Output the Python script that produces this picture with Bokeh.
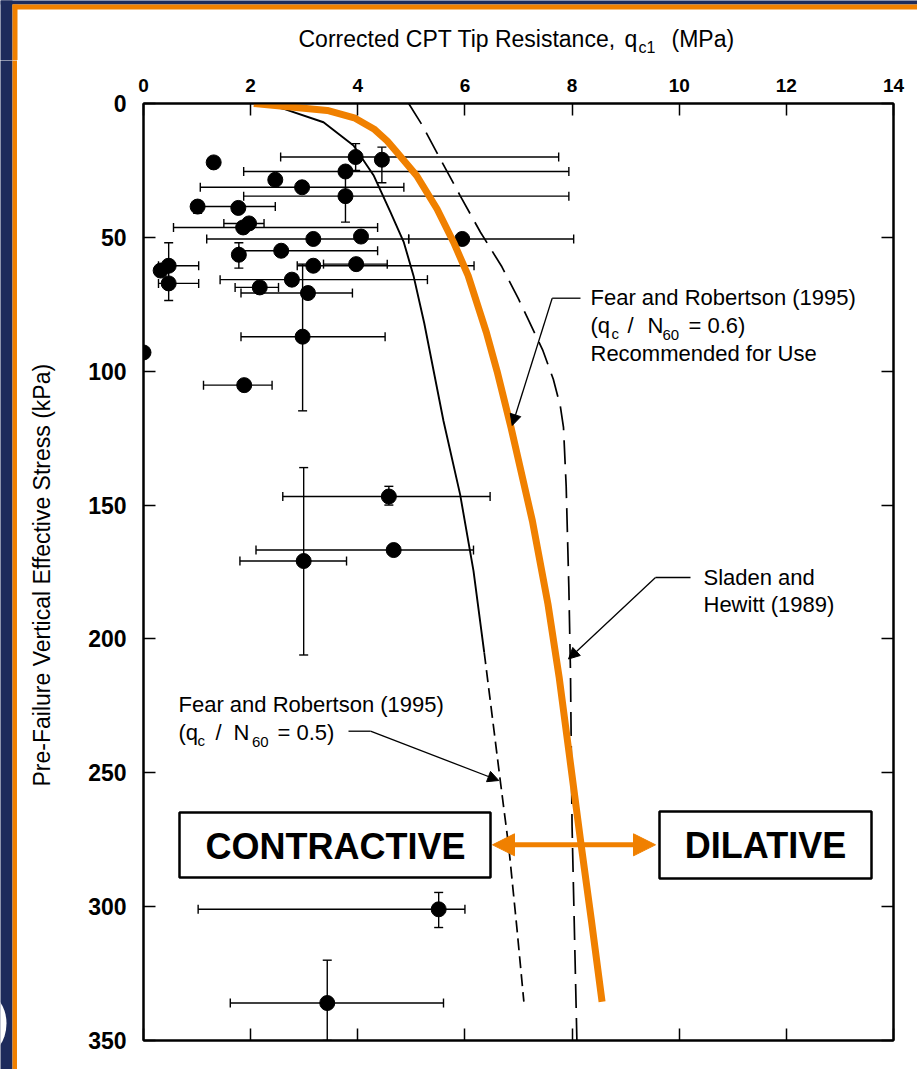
import math
from bokeh.plotting import figure
from bokeh.layouts import column, row
from bokeh.models import (Range1d, LinearAxis, FixedTicker, ColumnDataSource, Whisker,
                          TeeHead, Arrow, NormalHead, Label, BoxAnnotation)
from bokeh.embed import file_html
from bokeh.resources import INLINE

# ---------------------------------------------------------------------------
# Field case records: corrected CPT tip resistance qc1 (MPa) and
# pre-failure vertical effective stress (kPa)
case_qc1 = [1.31, 3.96, 4.45, 3.77, 2.46, 2.96, 3.77, 1.01, 1.77, 1.97, 1.86, 3.17,
            4.06, 5.95, 0.47, 0.32, 0.47, 1.78, 2.57, 3.17, 3.97, 2.77, 2.17, 3.07,
            2.97, 0.0, 1.88, 4.58, 4.67, 2.99, 5.51, 3.43]
case_sigma = [22, 20, 21, 25.4, 28.5, 31.3, 34.6, 38.5, 39, 44.8, 46.3, 50.6,
              49.7, 50.6, 60.6, 62.4, 67.2, 56.5, 55, 60.6, 60, 65.8, 68.7, 70.8,
              87.1, 93, 105.2, 146.8, 166.8, 170.9, 301, 336]

# Range of tip resistance for each record (horizontal bars)
qrange_sigma = [20, 25.4, 31.3, 34.6, 38.5, 44.8, 46.3, 50.6, 50.6, 60.6, 67.2, 55,
                60.6, 60, 65.8, 68.7, 70.8, 87.1, 105.2, 146.8, 166.8, 170.9, 301, 336]
qrange_low = [2.56, 1.87, 1.06, 1.87, 0.91, 1.5, 0.56, 1.18, 4.95, 0.28, 0.28, 1.78,
              2.87, 3.36, 1.43, 1.71, 1.82, 1.82, 1.12, 2.6, 2.1, 1.8, 1.02, 1.62]
qrange_high = [7.75, 7.94, 4.86, 7.94, 2.46, 2.25, 4.37, 4.95, 8.03, 1.03, 1.03, 4.37,
               6.17, 4.55, 5.3, 2.52, 3.9, 4.51, 2.4, 6.47, 6.16, 3.79, 6.0, 5.6]

# Range of effective stress for each record (vertical bars)
srange_qc1 = [3.96, 4.45, 3.77, 1.01, 0.47, 1.78, 2.97, 4.58, 2.99, 5.51, 3.43]
srange_low = [15, 16.3, 25.4, 36.5, 52, 52, 60, 143, 136, 294.7, 320]
srange_high = [25, 29.6, 44.3, 41, 73.6, 61.5, 114.8, 150, 206, 307.8, 350]

# Fear and Robertson (1995), qc/N60 = 0.6 (recommended boundary)
fr06_qc1 = [2.06, 3.43, 3.95, 4.3, 4.55, 4.73, 5.1, 5.48, 5.79, 6.06, 6.4, 6.6, 6.86,
            7.26, 7.55, 7.76, 7.96, 8.16, 8.36, 8.56]
fr06_sigma = [0, 2.6, 5.5, 9.5, 14, 18.2, 27, 39.4, 51.9, 64.3, 85.5, 100, 121,
              156, 187, 214.5, 245, 275.6, 305, 335.5]

# Fear and Robertson (1995), qc/N60 = 0.5
fr05_qc1 = [2.15, 2.62, 3.36, 3.92, 4.3, 4.61, 4.86, 5.04, 5.24, 5.6, 5.91, 6.16, 6.36]
fr05_sigma = [0, 2, 7, 15.7, 27, 40.6, 51.9, 64.3, 82, 118.6, 146, 174.6, 205]
fr05_ext_qc1 = [6.36, 6.66, 6.82, 6.97, 7.1]
fr05_ext_sigma = [205, 253, 278, 308, 335.5]

# Sladen and Hewitt (1989)
sladen_qc1 = [4.95, 5.2, 5.54, 5.91, 6.29, 6.69, 7.0, 7.19, 7.45, 7.65, 7.78, 7.84,
              7.89, 7.94, 7.97, 8.0, 8.09]
sladen_sigma = [0, 8, 20.7, 34.4, 48.1, 61, 73, 81, 92, 103, 113, 121, 143, 181,
                212, 270, 350]

x_ticks = [0, 2, 4, 6, 8, 10, 12, 14]
y_ticks = [0, 50, 100, 150, 200, 250, 300, 350]

# ---------------------------------------------------------------------------
PAGE_W, PAGE_H = 917, 1069
HEAD_H = 60          # height of the heading strip
BAND_W = 17          # width of the left page band
FX0, FX1, FY0, FY1 = 143, 893, 103, 1040   # plot frame edges on the page
NAVY = "#1d2b5c"
ORANGE = "#f08000"
FONT = "Liberation Sans"
BASE_SHIFT = 0.37    # text anchor correction (fraction of font size)


def qx(px):
    """page x pixel -> qc1 value"""
    return (px - FX0) / (FX1 - FX0) * 14.0


def sy(py):
    """page y pixel -> stress value"""
    return (py - FY0) / (FY1 - FY0) * 350.0


def ident(v):
    return v


def bare_figure(w, h, xr, yr):
    f = figure(width=w, height=h, x_range=xr, y_range=yr, output_backend="svg",
               toolbar_location=None, x_axis_location=None, y_axis_location=None,
               min_border=0, min_border_left=0, min_border_right=0,
               min_border_top=0, min_border_bottom=0,
               background_fill_color="white", border_fill_color="white")
    f.grid.visible = False
    f.outline_line_color = None
    f.frame_align = False
    return f


def band(f, l, r, t, b, color):
    f.add_layout(BoxAnnotation(left=l, right=r, top=t, bottom=b, fill_color=color,
                               fill_alpha=1, line_color=None, level="underlay"))


def text_on(f, xconv, yconv, text, px, py, size=22, bold=False, align="left",
            angle=0.0):
    f.add_layout(Label(x=xconv(px), y=yconv(py - BASE_SHIFT * size), text=text,
                       text_font=FONT, text_font_size=f"{size}px",
                       text_font_style="bold" if bold else "normal",
                       text_align=align, text_baseline="alphabetic", angle=angle,
                       text_color="black"))


# ---- heading strip: page bands and the horizontal axis title ----
head = bare_figure(PAGE_W, HEAD_H, Range1d(0, PAGE_W), Range1d(HEAD_H, 0))
band(head, 0, PAGE_W, -5, 4, NAVY)
band(head, -5, 12, -5, HEAD_H + 5, NAVY)
band(head, 12, PAGE_W + 5, 4, 9, ORANGE)
band(head, 12, BAND_W, 4, HEAD_H + 5, ORANGE)

text_on(head, ident, ident, "Corrected CPT Tip Resistance,", 298, 47, size=23)
text_on(head, ident, ident, "q", 624, 47, size=23)
text_on(head, ident, ident, "c1", 638, 53, size=16)
text_on(head, ident, ident, "(MPa)", 671, 47, size=23)

# ---- left page band ----
side = bare_figure(BAND_W, PAGE_H - HEAD_H, Range1d(0, BAND_W),
                   Range1d(PAGE_H, HEAD_H))
band(side, -5, 12, HEAD_H - 5, PAGE_H + 5, NAVY)
band(side, 12, BAND_W + 5, HEAD_H - 5, PAGE_H + 5, ORANGE)
side.ellipse(x=[-20], y=[1023], width=[52], height=[66], fill_color="white",
             line_color=None)

# ---- main chart ----
p = figure(width=PAGE_W - BAND_W, height=PAGE_H - HEAD_H,
           x_range=Range1d(0, 14), y_range=Range1d(350, 0),
           x_axis_location="above", output_backend="svg", toolbar_location=None,
           min_border_left=FX0 - BAND_W, min_border_right=PAGE_W - FX1,
           min_border_top=FY0 - HEAD_H, min_border_bottom=PAGE_H - FY1,
           background_fill_color="white", border_fill_color="white")
p.grid.visible = False
p.outline_line_color = "black"
p.outline_line_width = 2
p.frame_align = False


def style_axis(ax, ticks, size, standoff):
    ax.ticker = FixedTicker(ticks=ticks)
    ax.axis_line_width = 2
    ax.axis_line_color = "black"
    ax.major_tick_in = 12
    ax.major_tick_out = 0
    ax.major_tick_line_width = 1.5
    ax.minor_tick_line_color = None
    ax.major_label_text_font = FONT
    ax.major_label_text_font_style = "bold"
    ax.major_label_text_font_size = size
    ax.major_label_text_color = "black"
    ax.major_label_standoff = standoff


style_axis(p.xaxis[0], x_ticks, "19px", 12)
style_axis(p.yaxis[0], y_ticks, "23px", 17)
p.yaxis[0].axis_label = "Pre-Failure Vertical Effective Stress  (kPa)"
p.yaxis[0].axis_label_text_font = FONT
p.yaxis[0].axis_label_text_font_style = "normal"
p.yaxis[0].axis_label_text_font_size = "23px"
p.yaxis[0].axis_label_text_color = "black"
p.yaxis[0].axis_label_standoff = 30

bottom_axis = LinearAxis()
style_axis(bottom_axis, x_ticks, "0px", 0)
bottom_axis.major_label_text_color = None
p.add_layout(bottom_axis, "below")

right_axis = LinearAxis()
style_axis(right_axis, y_ticks, "0px", 0)
right_axis.major_label_text_color = None
p.add_layout(right_axis, "right")

# error bars
hsrc = ColumnDataSource(dict(sigma=qrange_sigma, lo=qrange_low, hi=qrange_high))
p.add_layout(Whisker(source=hsrc, base="sigma", lower="lo", upper="hi", dimension="width",
                     line_color="black", line_width=1.4, level="underlay",
                     lower_head=TeeHead(size=9, line_width=1.4),
                     upper_head=TeeHead(size=9, line_width=1.4)))
vsrc = ColumnDataSource(dict(q=srange_qc1, lo=srange_low, hi=srange_high))
p.add_layout(Whisker(source=vsrc, base="q", lower="lo", upper="hi", dimension="height",
                     line_color="black", line_width=1.4, level="underlay",
                     lower_head=TeeHead(size=9, line_width=1.4),
                     upper_head=TeeHead(size=9, line_width=1.4)))

# case records
p.scatter(case_qc1, case_sigma, size=15, marker="circle", fill_color="black",
          line_color="black")

# boundary curves
p.line(sladen_qc1, sladen_sigma, line_color="black", line_width=1.7, line_dash="24 10")
p.line(fr05_qc1, fr05_sigma, line_color="black", line_width=1.9)
p.line(fr05_ext_qc1, fr05_ext_sigma, line_color="black", line_width=1.7, line_dash="12 6")
p.line(fr06_qc1, fr06_sigma, line_color=ORANGE, line_width=7, line_join="round")


def label(text, px, py, size=22, bold=False, align="left"):
    text_on(p, qx, sy, text, px, py, size=size, bold=bold, align=align)


def leader(x0, y0, x1, y1, head=False):
    end = NormalHead(size=11, fill_color="black", line_color="black") if head else None
    p.add_layout(Arrow(x_start=qx(x0), y_start=sy(y0), x_end=qx(x1), y_end=sy(y1),
                       start=None, end=end, line_color="black", line_width=1.3))


# Fear and Robertson, qc/N60 = 0.6
label("Fear and Robertson (1995)", 590, 305)
label("(q", 590, 333)
label("c", 611, 338.5, size=15)
label("/", 627, 333)
label("N", 647, 333)
label("60", 662, 340, size=15)
label("= 0.6)", 688, 333)
label("Recommended for Use", 590, 361)
leader(580, 297.7, 551.7, 297.7)
leader(551.7, 297.7, 511.7, 425, head=True)

# Sladen and Hewitt
label("Sladen and", 703, 585)
label("Hewitt (1989)", 703, 612)
leader(690, 577, 655, 577)
leader(655, 577, 568, 658.5, head=True)

# Fear and Robertson, qc/N60 = 0.5
label("Fear and Robertson (1995)", 178, 712)
label("(q", 178, 740)
label("c", 197, 745.5, size=15)
label("/", 215, 740)
label("N", 233, 740)
label("60", 251.5, 747, size=15)
label("= 0.5)", 277, 740)
leader(348, 730.7, 370, 730.7)
leader(370, 730.7, 498.3, 780, head=True)

# state boxes and double arrow
for l, r, t, b in [(179, 490, 812, 877), (659, 871, 811, 878)]:
    p.add_layout(BoxAnnotation(left=qx(l), right=qx(r), top=sy(t), bottom=sy(b),
                               fill_color="white", fill_alpha=1, line_color="black",
                               line_alpha=1, line_width=2.5))
label("CONTRACTIVE", 335, 859, size=36, bold=True, align="center")
label("DILATIVE", 765, 858.5, size=36, bold=True, align="center")
p.add_layout(Arrow(x_start=qx(492), y_start=sy(844.3), x_end=qx(655), y_end=sy(844.3),
                   start=NormalHead(size=22, fill_color=ORANGE, line_color=ORANGE),
                   end=NormalHead(size=22, fill_color=ORANGE, line_color=ORANGE),
                   line_color=ORANGE, line_width=5))

page = column(head, row(side, p))
open("out.html", "w").write(file_html(page, INLINE))
